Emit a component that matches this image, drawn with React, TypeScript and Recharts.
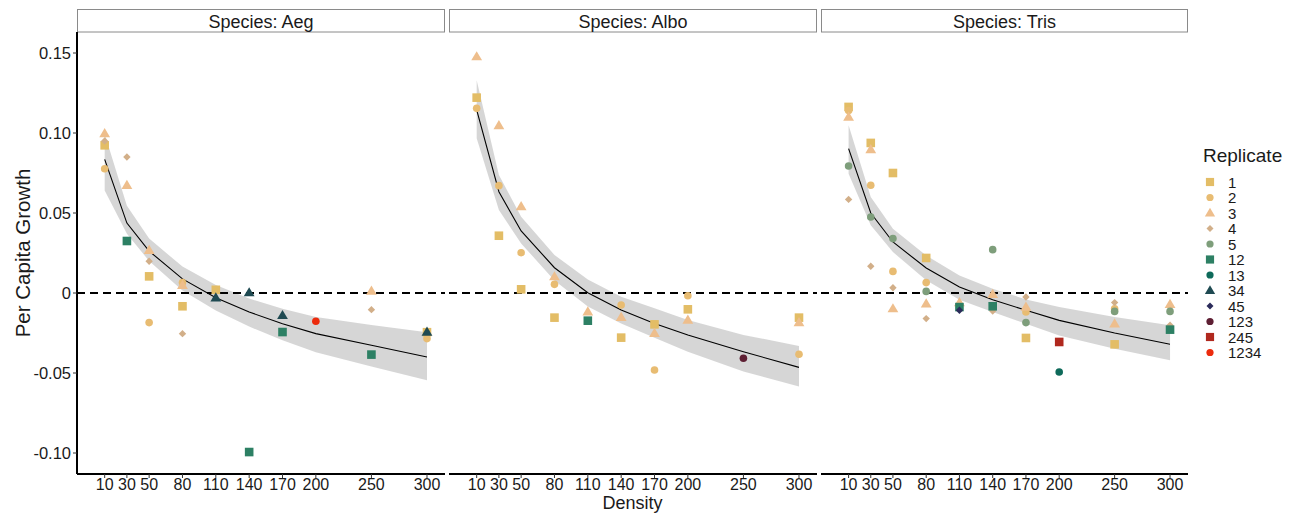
import React from 'react';
import { ComposedChart, XAxis, YAxis, Scatter, Line, Area, ReferenceLine } from 'recharts';

const DENSITY = [10, 30, 50, 80, 110, 140, 170, 200, 250, 300];
const X_TICKS = [10, 30, 50, 80, 110, 140, 170, 200, 250, 300];
const Y_TICKS = [-0.1, -0.05, 0, 0.05, 0.1, 0.15];
const Y_TICK_LABELS = ['-0.10', '-0.05', '0', '0.05', '0.10', '0.15'];

const SPECIES = ['Aeg', 'Albo', 'Tris'];

const REPLICATES = ['1', '2', '3', '4', '5', '12', '13', '34', '45', '123', '245', '1234'];
const REP_COLORS = ['#E3BD66', '#E8BC72', '#EEBE8C', '#D2AF89', '#7E9E7B', '#2D8064', '#0E6A5A', '#1F4A52', '#2B2B5A', '#5E1F33', '#B0281E', '#EC2B0D'];
const REP_SHAPES = ['square', 'circle', 'triangle', 'diamond', 'circle', 'square', 'circle', 'triangle', 'diamond', 'circle', 'square', 'circle'];

// fitted curve and confidence band per species, at each DENSITY
const AEG_FIT = [0.0835, 0.0437, 0.0262, 0.0088, -0.003, -0.0119, -0.0192, -0.0254, -0.0327, -0.04];
const AEG_LO = [0.064, 0.037, 0.02, 0.0015, -0.011, -0.021, -0.0296, -0.037, -0.046, -0.0545];
const AEG_HI = [0.0995, 0.0545, 0.034, 0.0165, 0.005, -0.0035, -0.0098, -0.015, -0.02, -0.0245];

const ALBO_FIT = [0.1144, 0.0633, 0.0388, 0.0158, 0.0002, -0.0106, -0.019, -0.0263, -0.0367, -0.0465];
const ALBO_LO = [0.0967, 0.0519, 0.031, 0.0078, -0.0085, -0.019, -0.028, -0.0367, -0.049, -0.0585];
const ALBO_HI = [0.133, 0.0738, 0.0477, 0.0238, 0.0085, -0.0023, -0.0096, -0.0169, -0.0262, -0.0331];

const TRIS_FIT = [0.0902, 0.05, 0.0319, 0.0156, 0.0038, -0.0042, -0.0108, -0.0171, -0.025, -0.032];
const TRIS_LO = [0.0746, 0.0423, 0.0256, 0.0079, -0.0042, -0.0119, -0.0192, -0.0265, -0.0348, -0.042];
const TRIS_HI = [0.1048, 0.06, 0.0402, 0.0235, 0.011, 0.0027, -0.004, -0.0088, -0.015, -0.0202];

// observed points: [replicate, density, per capita growth]
const AEG_POINTS: [string, number, number][] = [
  ['3', 10, 0.0996], ['4', 10, 0.095], ['1', 10, 0.0923], ['2', 10, 0.0777],
  ['4', 30, 0.085], ['3', 30, 0.0673], ['12', 30, 0.0325],
  ['3', 50, 0.0267], ['4', 50, 0.0198], ['1', 50, 0.0104], ['2', 50, -0.0185],
  ['2', 80, 0.0065], ['3', 80, 0.0048], ['1', 80, -0.0083], ['4', 80, -0.0254],
  ['1', 110, 0.002], ['34', 110, -0.003],
  ['34', 140, 0.0002], ['12', 140, -0.0994],
  ['34', 170, -0.014], ['12', 170, -0.0244],
  ['1234', 200, -0.0177],
  ['3', 250, 0.0012], ['4', 250, -0.0104], ['12', 250, -0.0385],
  ['1', 300, -0.0245], ['2', 300, -0.0285], ['34', 300, -0.0244],
];

const ALBO_POINTS: [string, number, number][] = [
  ['3', 10, 0.1477], ['1', 10, 0.1221], ['2', 10, 0.1154],
  ['3', 30, 0.1046], ['2', 30, 0.0671], ['1', 30, 0.0358],
  ['3', 50, 0.054], ['2', 50, 0.0252], ['1', 50, 0.0023],
  ['3', 80, 0.0102], ['2', 80, 0.0054], ['1', 80, -0.0154],
  ['3', 110, -0.0117], ['12', 110, -0.0173],
  ['2', 140, -0.0075], ['3', 140, -0.0152], ['1', 140, -0.0279],
  ['1', 170, -0.0196], ['3', 170, -0.0252], ['2', 170, -0.0481],
  ['2', 200, -0.0017], ['1', 200, -0.0102], ['3', 200, -0.0169],
  ['123', 250, -0.0408],
  ['1', 300, -0.0154], ['3', 300, -0.0185], ['2', 300, -0.0383],
];

const TRIS_POINTS: [string, number, number][] = [
  ['1', 10, 0.1163], ['2', 10, 0.114], ['3', 10, 0.11], ['5', 10, 0.0794], ['4', 10, 0.0585],
  ['1', 30, 0.0938], ['3', 30, 0.0896], ['2', 30, 0.0673], ['5', 30, 0.0475], ['4', 30, 0.0167],
  ['1', 50, 0.075], ['5', 50, 0.034], ['2', 50, 0.0135], ['4', 50, 0.0033], ['3', 50, -0.0098],
  ['1', 80, 0.0219], ['2', 80, 0.0065], ['5', 80, 0.001], ['3', 80, -0.0067], ['4', 80, -0.016],
  ['3', 110, -0.006], ['12', 110, -0.0088], ['45', 110, -0.0108],
  ['5', 140, 0.0271], ['3', 140, -0.0008], ['4', 140, -0.0113], ['12', 140, -0.0083],
  ['4', 170, -0.0025], ['3', 170, -0.0088], ['2', 170, -0.0119], ['5', 170, -0.0185], ['1', 170, -0.0281],
  ['245', 200, -0.0306], ['13', 200, -0.0494],
  ['4', 250, -0.006], ['2', 250, -0.0098], ['5', 250, -0.0115], ['3', 250, -0.0192], ['1', 250, -0.0321],
  ['3', 300, -0.0071], ['5', 300, -0.0115], ['4', 300, -0.0202], ['12', 300, -0.0229],
];

const FITS = [AEG_FIT, ALBO_FIT, TRIS_FIT];
const LOS = [AEG_LO, ALBO_LO, TRIS_LO];
const HIS = [AEG_HI, ALBO_HI, TRIS_HI];
const POINTS = [AEG_POINTS, ALBO_POINTS, TRIS_POINTS];

const FONT = '"Liberation Sans", Arial, Helvetica, sans-serif';
const X_DOMAIN: [number, number] = [-14.9, 316.2];
const Y_DOMAIN: [number, number] = [-0.113125, 0.163125];

const PLOT_LEFT = [77, 449, 821];
const PLOT_WIDTH = [368, 368, 367];
const PLOT_TOP = 32;
const PLOT_HEIGHT = 442;
const X_AXIS_H = 30;

function Sym({ kind, cx, cy, color, s = 1 }: { kind: string; cx: number; cy: number; color: string; s?: number }) {
  if (kind === 'square') {
    const h = 4.3 * s;
    return <rect x={cx - h} y={cy - h} width={2 * h} height={2 * h} fill={color} />;
  }
  if (kind === 'circle') return <circle cx={cx} cy={cy} r={3.8 * s} fill={color} />;
  if (kind === 'triangle') {
    const w = 5.4 * s;
    const h = 9.2 * s;
    return <polygon points={`${cx},${cy - h * 0.6} ${cx + w},${cy + h * 0.4} ${cx - w},${cy + h * 0.4}`} fill={color} />;
  }
  const r = 3.7 * s;
  return <polygon points={`${cx},${cy - r} ${cx + r},${cy} ${cx},${cy + r} ${cx - r},${cy}`} fill={color} />;
}

function Panel({ idx }: { idx: number }) {
  const first = idx === 0;
  const yw = first ? 77 : 0;
  const fitData = DENSITY.map((d, i) => ({ d, fit: FITS[idx][i], lo: LOS[idx][i], hi: HIS[idx][i] }));
  const pts = POINTS[idx];
  const groups = REPLICATES.map((r, ri) => ({
    ri,
    data: pts.filter((p) => p[0] === r).map((p) => ({ d: p[1], v: p[2] })),
  })).filter((g) => g.data.length > 0);

  return (
    <div style={{ position: 'absolute', left: PLOT_LEFT[idx] - yw, top: PLOT_TOP }}>
      <ComposedChart
        width={yw + PLOT_WIDTH[idx]}
        height={PLOT_HEIGHT + X_AXIS_H}
        data={fitData}
        margin={{ top: 0, right: 0, bottom: 0, left: 0 }}
      >
        <XAxis
          type="number"
          dataKey="d"
          domain={X_DOMAIN}
          allowDataOverflow
          ticks={X_TICKS}
          interval={0}
          height={X_AXIS_H}
          tickSize={4}
          tickMargin={1}
          tick={{ fontSize: 16, fill: '#1a1a1a', fontFamily: FONT }}
          tickLine={{ stroke: '#333', strokeWidth: 1 }}
          axisLine={{ stroke: '#000', strokeWidth: 2 }}
        />
        <YAxis
          type="number"
          domain={Y_DOMAIN}
          allowDataOverflow
          ticks={Y_TICKS}
          interval={0}
          width={yw}
          hide={!first}
          tickSize={4}
          tickMargin={2}
          tickFormatter={(v: number) => Y_TICK_LABELS[Y_TICKS.findIndex((t) => Math.abs(t - v) < 1e-9)] ?? String(v)}
          tick={{ fontSize: 16.5, fill: '#1a1a1a', fontFamily: FONT }}
          tickLine={{ stroke: '#333', strokeWidth: 1 }}
          axisLine={{ stroke: '#000', strokeWidth: 2 }}
        />
        {groups.map((g) => (
          <Scatter
            key={REPLICATES[g.ri]}
            data={g.data}
            dataKey="v"
            isAnimationActive={false}
            shape={(p: any) => <Sym kind={REP_SHAPES[g.ri]} cx={p.cx} cy={p.cy} color={REP_COLORS[g.ri]} />}
          />
        ))}
        <Area
          type="linear"
          dataKey={(r: any) => [r.lo, r.hi]}
          stroke="none"
          fill="#999999"
          fillOpacity={0.4}
          isAnimationActive={false}
          activeDot={false}
          dot={false}
        />
        <ReferenceLine y={0} stroke="#000" strokeWidth={2} strokeDasharray="8 5" ifOverflow="visible" />
        <Line
          type="linear"
          dataKey="fit"
          stroke="#000"
          strokeWidth={1.1}
          dot={false}
          activeDot={false}
          isAnimationActive={false}
        />
      </ComposedChart>
    </div>
  );
}

function Strip({ idx }: { idx: number }) {
  const w = PLOT_WIDTH[idx];
  return (
    <svg style={{ position: 'absolute', left: PLOT_LEFT[idx], top: 9 }} width={w} height={24}>
      <rect x={0.5} y={0.5} width={w - 1} height={22.5} fill="#fff" stroke="#8a8a8a" strokeWidth={1} />
      <text x={w / 2} y={12.5} textAnchor="middle" dominantBaseline="central" fontSize={18} fontFamily={FONT} fill="#1a1a1a">
        {`Species: ${SPECIES[idx]}`}
      </text>
    </svg>
  );
}

function Legend() {
  return (
    <svg style={{ position: 'absolute', left: 1165, top: 140 }} width={135} height={230}>
      <text x={38} y={15} dominantBaseline="central" fontSize={19} fontFamily={FONT} fill="#1a1a1a">Replicate</text>
      {REPLICATES.map((r, i) => {
        const cy = 42 + i * 15.5;
        return (
          <g key={r}>
            <Sym kind={REP_SHAPES[i]} cx={45} cy={cy} color={REP_COLORS[i]} s={0.95} />
            <text x={63} y={cy} dominantBaseline="central" fontSize={15} fontFamily={FONT} fill="#1a1a1a">{r}</text>
          </g>
        );
      })}
    </svg>
  );
}

export default function App() {
  return (
    <div style={{ position: 'absolute', left: 0, top: 0, width: 1300, height: 515, background: '#fff', fontFamily: FONT, overflow: 'hidden' }}>
      {[0, 1, 2].map((i) => <Strip key={`s${i}`} idx={i} />)}
      {[0, 1, 2].map((i) => <Panel key={`p${i}`} idx={i} />)}
      <svg style={{ position: 'absolute', left: 0, top: 0 }} width={60} height={515}>
        <text transform="translate(22,253) rotate(-90)" textAnchor="middle" dominantBaseline="central" fontSize={20.5} fontFamily={FONT} fill="#1a1a1a">
          Per Capita Growth
        </text>
      </svg>
      <div style={{ position: 'absolute', left: 0, top: 492, width: 1265, textAlign: 'center', fontSize: 18, fontFamily: FONT, color: '#1a1a1a', lineHeight: '22px' }}>
        Density
      </div>
      <Legend />
    </div>
  );
}
